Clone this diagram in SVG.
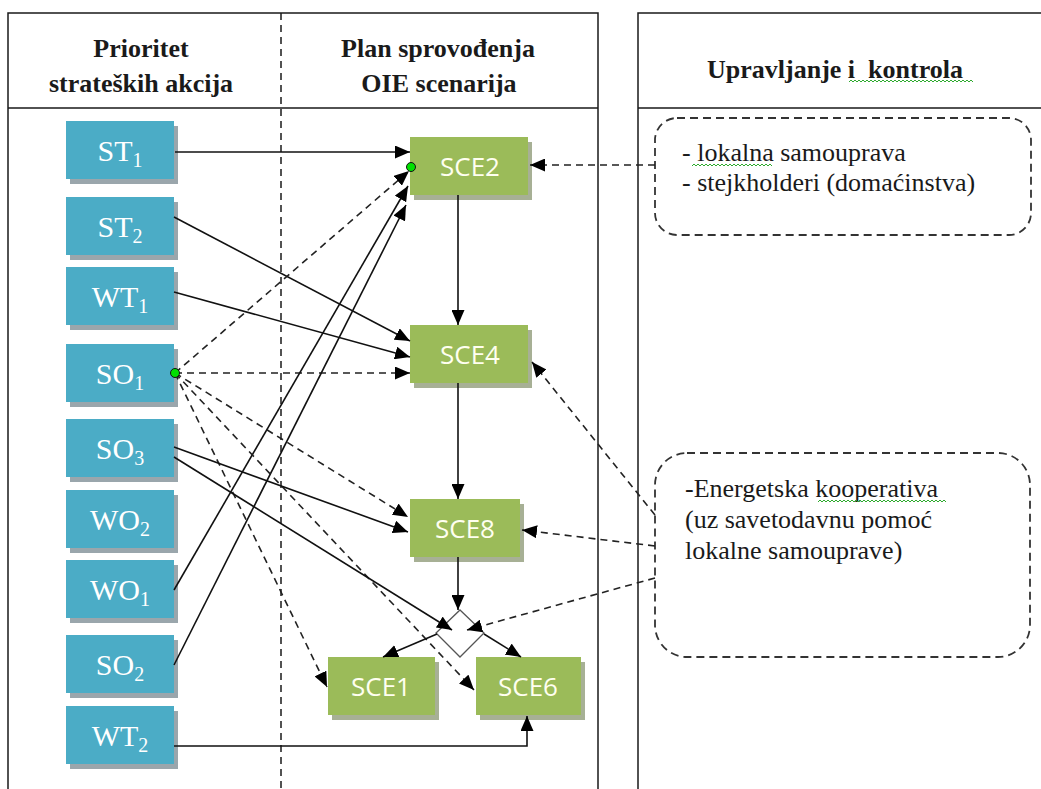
<svg xmlns="http://www.w3.org/2000/svg" width="1041" height="789" viewBox="0 0 1041 789">
<style>
.frame{stroke:#1a1a1a;stroke-width:1.5;fill:none}
.sep{stroke:#1a1a1a;stroke-width:1.5;stroke-dasharray:7,5;fill:none}
.hdr{font-family:"Liberation Serif",serif;font-weight:bold;font-size:26px;fill:#1a1a1a;text-anchor:middle}
.blue{fill:#4BACC6}
.green{fill:#9BBB59}
.shd{fill:#9aa6ac}
.gshd{fill:#a7b095}
.bt{font-family:"Liberation Serif",serif;font-size:30px;fill:#ffffff;text-anchor:middle}
.gt{font-family:"Open Sans",sans-serif;font-size:26px;fill:#fffff0;text-anchor:middle}
.c{stroke:#111;stroke-width:1.6;fill:none;marker-end:url(#ah)}
.d{stroke:#222;stroke-width:1.6;fill:none;stroke-dasharray:7,5;marker-end:url(#ah)}
.rb{stroke:#333;stroke-width:1.8;fill:none;stroke-dasharray:8,5}
.rt{font-family:"Liberation Serif",serif;font-size:26px;fill:#1a1a1a}
.wv{stroke:#2eaa2e;stroke-width:1;fill:none}
.dot{fill:#00e000;stroke:#111;stroke-width:1}
</style>
<defs>
<marker id="ah" markerUnits="userSpaceOnUse" markerWidth="16" markerHeight="13" refX="15" refY="6.5" orient="auto">
<path d="M0,0 L15,6.5 L0,13 z" fill="#000"/>
</marker>
</defs>

<g id="frame">
<path class="frame" d="M8,789 V13 H598 V789 M8,108 H598"/>
<path class="frame" d="M638,789 V13 H1041 M638,108 H1041"/>
<path class="sep" d="M281,13 V789"/>
</g>

<g id="headers">
<text class="hdr" x="141" y="57">Prioritet</text>
<text class="hdr" x="141" y="92">strateških akcija</text>
<text class="hdr" x="438" y="57">Plan sprovođenja</text>
<text class="hdr" x="439" y="92">OIE scenarija</text>
<text class="hdr" x="835" y="78" xml:space="preserve">Upravljanje i  kontrola</text>
<path class="wv" d="M849,82 l2,-2 l2,2 l2,-2 l2,2 l2,-2 l2,2 l2,-2 l2,2 l2,-2 l2,2 l2,-2 l2,2 l2,-2 l2,2 l2,-2 l2,2 l2,-2 l2,2 l2,-2 l2,2 l2,-2 l2,2 l2,-2 l2,2 l2,-2 l2,2 l2,-2 l2,2 l2,-2 l2,2 l2,-2 l2,2 l2,-2 l2,2 l2,-2 l2,2 l2,-2 l2,2 l2,-2 l2,2 l2,-2 l2,2 l2,-2 l2,2 l2,-2 l2,2 l2,-2 l2,2 l2,-2 l2,2 l2,-2 l2,2 l2,-2 l2,2 l2,-2 l2,2 l2,-2 l2,2 l2,-2 l2,2 l2,-2 l2,2"/>
</g>

<g id="ST1"><rect class="shd" x="70" y="126" width="108" height="58"/><rect class="blue" x="66" y="121" width="108" height="58"/><text class="bt" x="120" y="161">ST<tspan font-size="20" dy="6">1</tspan></text></g>
<g id="ST2"><rect class="shd" x="70" y="202" width="108" height="58"/><rect class="blue" x="66" y="197" width="108" height="58"/><text class="bt" x="120" y="237">ST<tspan font-size="20" dy="6">2</tspan></text></g>
<g id="WT1"><rect class="shd" x="70" y="272" width="108" height="58"/><rect class="blue" x="66" y="267" width="108" height="58"/><text class="bt" x="120" y="307">WT<tspan font-size="20" dy="6">1</tspan></text></g>
<g id="SO1"><rect class="shd" x="70" y="349" width="108" height="58"/><rect class="blue" x="66" y="344" width="108" height="58"/><text class="bt" x="120" y="384">SO<tspan font-size="20" dy="6">1</tspan></text></g>
<g id="SO3"><rect class="shd" x="70" y="424" width="108" height="58"/><rect class="blue" x="66" y="419" width="108" height="58"/><text class="bt" x="120" y="459">SO<tspan font-size="20" dy="6">3</tspan></text></g>
<g id="WO2"><rect class="shd" x="70" y="495" width="108" height="58"/><rect class="blue" x="66" y="490" width="108" height="58"/><text class="bt" x="120" y="530">WO<tspan font-size="20" dy="6">2</tspan></text></g>
<g id="WO1"><rect class="shd" x="70" y="565" width="108" height="58"/><rect class="blue" x="66" y="560" width="108" height="58"/><text class="bt" x="120" y="600">WO<tspan font-size="20" dy="6">1</tspan></text></g>
<g id="SO2"><rect class="shd" x="70" y="640" width="108" height="58"/><rect class="blue" x="66" y="635" width="108" height="58"/><text class="bt" x="120" y="675">SO<tspan font-size="20" dy="6">2</tspan></text></g>
<g id="WT2"><rect class="shd" x="70" y="711" width="108" height="58"/><rect class="blue" x="66" y="706" width="108" height="58"/><text class="bt" x="120" y="746">WT<tspan font-size="20" dy="6">2</tspan></text></g>

<g id="SCE2"><rect class="gshd" x="414" y="142" width="118" height="58"/><rect class="green" x="410" y="137" width="118" height="58"/><text class="gt" x="470" y="176">SCE2</text></g>
<g id="SCE4"><rect class="gshd" x="414" y="330" width="118" height="58"/><rect class="green" x="410" y="325" width="118" height="58"/><text class="gt" x="470" y="364">SCE4</text></g>
<g id="SCE8"><rect class="gshd" x="414" y="504" width="110" height="58"/><rect class="green" x="410" y="499" width="110" height="58"/><text class="gt" x="465" y="538">SCE8</text></g>
<g id="SCE1"><rect class="gshd" x="332" y="662" width="107" height="58"/><rect class="green" x="328" y="657" width="107" height="58"/><text class="gt" x="381" y="696">SCE1</text></g>
<g id="SCE6"><rect class="gshd" x="480" y="662" width="105" height="58"/><rect class="green" x="476" y="657" width="105" height="58"/><text class="gt" x="528" y="696">SCE6</text></g>

<g id="gate"><path d="M460,610 L484,633 L460,657 L436,633 z" fill="none" stroke="#555" stroke-width="1.3"/></g>

<g id="box-lokalna">
<rect class="rb" x="655" y="118" width="376" height="117" rx="22"/>
<text class="rt" x="682" y="161">- lokalna samouprava</text>
<text class="rt" x="682" y="191">- stejkholderi (domaćinstva)</text>
<path class="wv" d="M692,166 l2,-2 l2,2 l2,-2 l2,2 l2,-2 l2,2 l2,-2 l2,2 l2,-2 l2,2 l2,-2 l2,2 l2,-2 l2,2 l2,-2 l2,2 l2,-2 l2,2 l2,-2 l2,2 l2,-2 l2,2 l2,-2 l2,2 l2,-2 l2,2 l2,-2 l2,2 l2,-2 l2,2 l2,-2 l2,2 l2,-2 l2,2 l2,-2 l2,2 l2,-2 l2,2 l2,-2 l2,2"/>
</g>

<g id="box-kooperativa">
<rect class="rb" x="655" y="453" width="375" height="204" rx="32"/>
<text class="rt" x="685" y="497">-Energetska kooperativa</text>
<text class="rt" x="685" y="528">(uz savetodavnu pomoć</text>
<text class="rt" x="685" y="559">lokalne samouprave)</text>
<path class="wv" d="M818,502 l2,-2 l2,2 l2,-2 l2,2 l2,-2 l2,2 l2,-2 l2,2 l2,-2 l2,2 l2,-2 l2,2 l2,-2 l2,2 l2,-2 l2,2 l2,-2 l2,2 l2,-2 l2,2 l2,-2 l2,2 l2,-2 l2,2 l2,-2 l2,2 l2,-2 l2,2 l2,-2 l2,2 l2,-2 l2,2 l2,-2 l2,2 l2,-2 l2,2 l2,-2 l2,2 l2,-2 l2,2 l2,-2 l2,2 l2,-2 l2,2 l2,-2 l2,2 l2,-2 l2,2 l2,-2 l2,2 l2,-2 l2,2 l2,-2 l2,2 l2,-2 l2,2 l2,-2 l2,2 l2,-2 l2,2 l2,-2 l2,2 l2,-2 l2,2"/>
</g>

<g id="connectors">
<path class="c" d="M175,152 L410,152"/>
<path class="c" d="M174,217 L410,341"/>
<path class="c" d="M174,292 L410,357"/>
<path class="d" d="M175,373 L410,373"/>
<path class="d" d="M175,373 L409,171"/>
<path class="c" d="M174,590 L408,186"/>
<path class="c" d="M174,665 L406,205"/>
<path class="d" d="M175,373 L408,517"/>
<path class="d" d="M175,373 L474,690"/>
<path class="d" d="M175,373 L327,687"/>
<path class="c" d="M174,447 L408,532"/>
<path class="c" d="M174,457 L452,630"/>
<path class="c" d="M458,195 L458,325"/>
<path class="c" d="M458,383 L458,499"/>
<path class="c" d="M458,557 L458,610"/>
<path class="c" d="M437,634 L383,657"/>
<path class="c" d="M484,634 L521,657"/>
<path class="c" d="M174,746 L527,746 L527,716"/>
<path class="d" d="M655,165 L530,165"/>
<path class="d" d="M655,515 L532,362"/>
<path class="d" d="M655,546 L522,530"/>
<path class="d" d="M655,578 L467,630"/>
<circle class="dot" cx="175" cy="373" r="4.5"/>
<circle class="dot" cx="411" cy="167" r="4.5"/>
</g>
</svg>
